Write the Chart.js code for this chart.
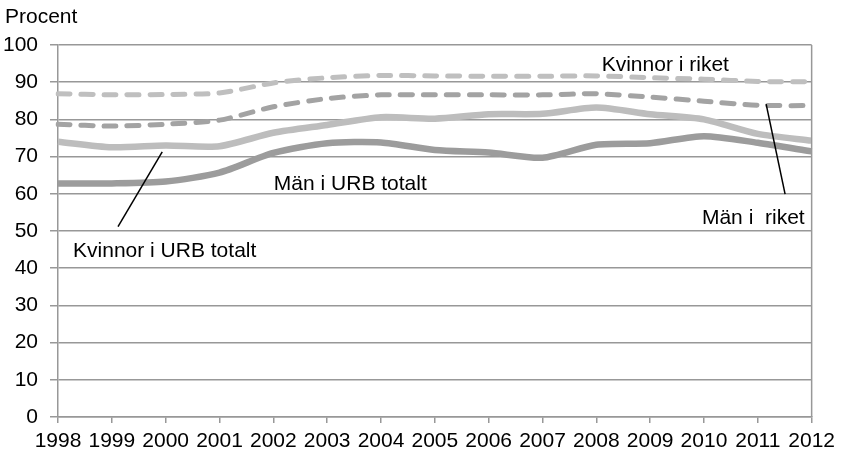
<!DOCTYPE html>
<html>
<head>
<meta charset="utf-8">
<script src="https://cdn.jsdelivr.net/npm/chart.js@4"></script>
<style>
  html, body { margin: 0; padding: 0; background: #fff; }
  #container { width: 841px; height: 454px; position: relative; }
</style>
</head>
<body>
<div id="container"><canvas id="lineChart"></canvas></div>
<script>
// Years on the x axis
const years = ['1998', '1999', '2000', '2001', '2002', '2003', '2004', '2005',
  '2006', '2007', '2008', '2009', '2010', '2011', '2012'];

// Series values (procent)
const kvinnorRiket = [86.9, 86.6, 86.7, 87.1, 89.8, 91.2, 91.8, 91.7, 91.6, 91.6, 91.7, 91.2, 90.8, 90.2, 90.1];
const manRiket = [78.7, 78.2, 78.7, 79.8, 83.4, 85.6, 86.6, 86.6, 86.6, 86.6, 86.9, 86.0, 84.9, 83.8, 83.7];
const kvinnorUrb = [74.0, 72.5, 73.0, 72.8, 76.4, 78.5, 80.6, 80.2, 81.4, 81.5, 83.2, 81.4, 80.0, 76.1, 74.3];
const manUrb = [62.8, 62.8, 63.3, 65.7, 71.0, 73.6, 73.8, 71.8, 71.1, 69.7, 73.2, 73.6, 75.5, 73.7, 71.4];

const seriesNames = ['Kvinnor i riket', 'Män i riket', 'Kvinnor i URB totalt', 'Män i URB totalt'];

// Y axis ticks
const yMin = 0;
const yMax = 100;
const yStep = 10;

// Labels written in the plot, placed in data units (x = year index, y = procent)
const labelTexts = ['Kvinnor i riket', 'Män i URB totalt', 'Kvinnor i URB totalt', 'Män i  riket'];
const labelAt = [
  { x: 10.1, y: 93.0, align: 'left' },
  { x: 4.01, y: 61.0, align: 'left' },
  { x: 0.28, y: 43.0, align: 'left' },
  { x: 13.87, y: 51.9, align: 'right' }
];
// Leader lines from series to their label
const leaders = [
  { x1: 1.936, y1: 71.3, x2: 1.115, y2: 51.2 },
  { x1: 13.155, y1: 84.1, x2: 13.507, y2: 59.9 }
];

const fontFamily = '"Liberation Sans", Arial, sans-serif';
const fontSize = 21;
const gridColor = '#989898';

// Draws "Procent", the plot labels, the leader lines and the right border
const annotations = {
  id: 'annotations',
  afterDatasetsDraw(chart) {
    const ctx = chart.ctx;
    const xs = chart.scales.x;
    const ys = chart.scales.y;
    const area = chart.chartArea;
    ctx.save();

    // right border of the plot
    ctx.strokeStyle = gridColor;
    ctx.lineWidth = 1.5;
    ctx.beginPath();
    ctx.moveTo(area.right, area.top);
    ctx.lineTo(area.right, area.bottom);
    ctx.stroke();

    ctx.strokeStyle = '#000';
    ctx.lineWidth = 1.5;
    leaders.forEach(function (l) {
      ctx.beginPath();
      ctx.moveTo(xs.getPixelForValue(l.x1), ys.getPixelForValue(l.y1));
      ctx.lineTo(xs.getPixelForValue(l.x2), ys.getPixelForValue(l.y2));
      ctx.stroke();
    });

    ctx.fillStyle = '#000';
    ctx.font = fontSize + 'px ' + fontFamily;
    ctx.textBaseline = 'alphabetic';
    labelTexts.forEach(function (t, i) {
      ctx.textAlign = labelAt[i].align;
      ctx.fillText(t, xs.getPixelForValue(labelAt[i].x), ys.getPixelForValue(labelAt[i].y));
    });

    ctx.textAlign = 'left';
    ctx.fillText('Procent', 5, 23);
    ctx.restore();
  }
};

const ctx = document.getElementById('lineChart').getContext('2d');
new Chart(ctx, {
  type: 'line',
  data: {
    labels: years,
    datasets: [
      {
        label: seriesNames[0],
        data: kvinnorRiket,
        borderColor: '#bfbfbf',
        borderWidth: 5,
        borderDash: [12, 11],
        borderCapStyle: 'round'
      },
      {
        label: seriesNames[1],
        data: manRiket,
        borderColor: '#a3a3a3',
        borderWidth: 5,
        borderDash: [12, 11],
        borderCapStyle: 'round'
      },
      {
        label: seriesNames[2],
        data: kvinnorUrb,
        borderColor: '#bdbdbd',
        borderWidth: 6.5
      },
      {
        label: seriesNames[3],
        data: manUrb,
        borderColor: '#9c9c9c',
        borderWidth: 6.5
      }
    ]
  },
  options: {
    responsive: true,
    maintainAspectRatio: false,
    animation: false,
    layout: {
      padding: { left: 0, right: 26, top: 45, bottom: 0 }
    },
    elements: {
      point: { radius: 0, hoverRadius: 0 },
      line: { tension: 0.25, fill: false, borderJoinStyle: 'round' }
    },
    plugins: {
      legend: { display: false },
      tooltip: { enabled: false }
    },
    scales: {
      x: {
        offset: false,
        grid: {
          drawOnChartArea: false,
          drawTicks: true,
          tickLength: 6,
          color: gridColor,
          lineWidth: 1.5
        },
        border: { color: gridColor, width: 1.5 },
        ticks: {
          color: '#000',
          font: { family: fontFamily, size: fontSize },
          padding: 6,
          maxRotation: 0,
          autoSkip: false
        },
        afterFit: function (scale) { scale.height = 37; }
      },
      y: {
        min: yMin,
        max: yMax,
        grid: {
          color: gridColor,
          lineWidth: 1.5,
          tickLength: 8
        },
        border: { color: gridColor, width: 1.5 },
        ticks: {
          stepSize: yStep,
          color: '#000',
          font: { family: fontFamily, size: fontSize },
          padding: 12
        },
        afterFit: function (scale) { scale.width = 58; }
      }
    }
  },
  plugins: [annotations]
});
</script>
</body>
</html>
